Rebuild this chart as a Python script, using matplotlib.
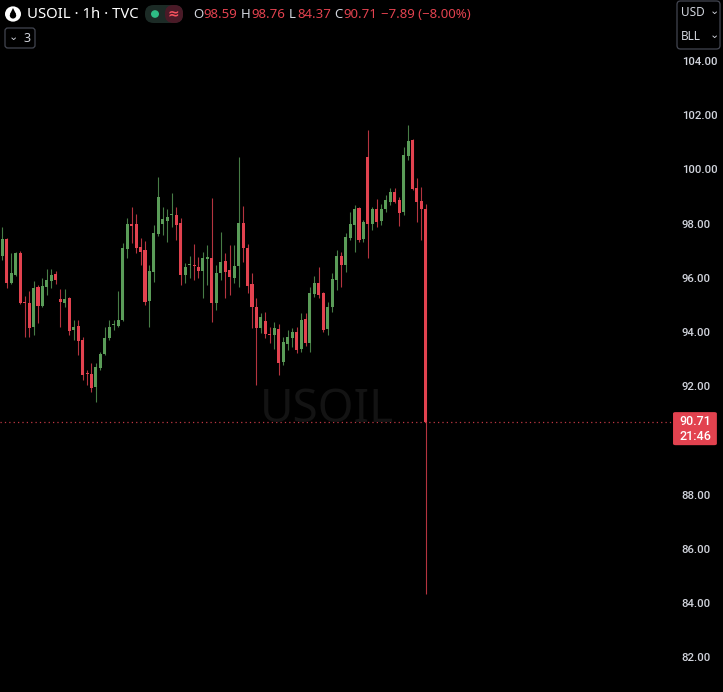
import numpy as np
import matplotlib.pyplot as plt
from matplotlib.patches import FancyBboxPatch, Circle, Polygon

plt.rcParams['font.family'] = ['Noto Sans', 'DejaVu Sans']

# USOIL 1h candles
opens = [96.84, 97.47, 95.85, 96.14, 96.95, 95.14, 95.11, 94.22, 95.70, 95.00,
         95.70, 95.92, 96.18, 95.25, 95.11, 95.29, 94.11, 94.26, 93.74, 92.52,
         92.49, 92.01, 92.71, 93.23, 93.82, 94.30, 94.26, 94.48, 97.10, 98.02,
         98.02, 97.17, 97.06, 95.18, 96.25, 97.65, 98.02, 98.13, 98.35, 98.35,
         98.06, 96.14, 96.51, 96.51, 96.44, 96.29, 96.73, 96.77, 95.11, 96.21,
         96.66, 96.32, 96.03, 96.47, 98.06, 97.14, 95.81, 94.96, 94.18, 94.44,
         93.96, 93.93, 94.15, 92.93, 93.59, 93.82, 94.04, 93.41, 94.52, 93.63,
         95.44, 95.85, 95.48, 94.15, 94.96, 95.96, 96.84, 96.51, 97.50, 97.99,
         98.61, 97.47, 100.49, 98.02, 98.58, 98.13, 98.58, 98.83, 99.20, 98.91,
         98.46, 100.53, 101.12, 99.35, 98.87, 98.59]
highs = [97.91, 97.50, 96.95, 96.99, 97.03, 95.37, 95.55, 95.92, 95.77, 96.03,
         96.36, 96.36, 96.29, 95.62, 95.62, 95.33, 94.48, 94.48, 93.85, 92.63,
         92.89, 92.89, 93.30, 94.22, 94.48, 94.48, 95.55, 97.32, 98.24, 98.65,
         98.39, 97.51, 97.40, 96.51, 97.99, 99.76, 98.65, 98.58, 99.17, 98.65,
         98.24, 96.58, 96.84, 97.28, 96.80, 96.99, 97.25, 98.98, 96.51, 97.73,
         96.95, 97.25, 97.25, 100.49, 98.69, 97.28, 96.21, 95.29, 94.74, 94.78,
         94.22, 94.41, 94.33, 93.85, 94.11, 94.18, 94.22, 94.74, 94.74, 95.70,
         96.10, 96.44, 95.51, 95.14, 96.21, 97.06, 96.99, 97.69, 98.46, 98.72,
         98.65, 98.17, 101.49, 98.65, 98.94, 98.76, 99.09, 99.35, 99.35, 99.02,
         100.86, 101.68, 101.15, 99.72, 99.39, 98.76]
lows = [96.69, 95.66, 95.80, 96.10, 95.08, 93.85, 93.85, 93.93, 94.37, 94.96,
        95.40, 95.66, 95.81, 94.22, 94.96, 93.93, 93.74, 93.19, 92.27, 92.08,
        91.82, 91.45, 92.63, 93.19, 93.74, 94.11, 94.22, 94.44, 96.77, 97.32,
        96.95, 96.51, 95.03, 94.22, 95.88, 97.58, 97.62, 97.36, 97.91, 97.43,
        95.77, 95.85, 96.03, 95.96, 96.03, 95.29, 95.77, 94.41, 94.85, 95.96,
        95.29, 95.40, 95.85, 95.70, 96.62, 95.48, 94.18, 92.08, 94.00, 93.82,
        93.63, 93.41, 92.45, 92.82, 93.37, 93.48, 93.26, 93.30, 93.52, 93.30,
        95.33, 95.29, 94.04, 93.93, 94.78, 95.59, 95.70, 96.25, 97.43, 96.99,
        97.36, 97.36, 96.77, 97.80, 97.91, 97.99, 98.46, 98.72, 98.80, 97.95,
        98.35, 100.38, 99.28, 98.10, 97.43, 84.37]
closes = [97.47, 95.85, 96.21, 96.95, 95.11, 95.11, 94.18, 95.66, 95.00, 95.74,
          95.96, 96.14, 95.96, 95.14, 95.25, 94.07, 94.22, 93.70, 92.45, 92.49,
          91.97, 92.75, 93.23, 93.82, 94.22, 94.32, 94.48, 97.14, 98.02, 97.95,
          97.14, 96.99, 95.14, 96.29, 97.69, 99.02, 98.21, 98.28, 98.36, 97.99,
          96.14, 96.44, 96.52, 96.49, 96.29, 96.77, 96.80, 95.11, 96.21, 96.62,
          96.25, 96.07, 96.47, 98.06, 97.14, 95.74, 94.96, 94.18, 94.59, 93.96,
          93.94, 94.18, 92.89, 93.67, 93.85, 94.04, 93.37, 94.48, 93.63, 95.48,
          95.85, 95.40, 94.11, 94.96, 95.99, 96.84, 96.51, 97.54, 98.02, 98.58,
          97.43, 98.10, 98.02, 98.58, 98.10, 98.58, 98.91, 99.20, 98.83, 98.43,
          100.57, 101.08, 99.31, 98.83, 98.58, 90.71]

# 90.00 sits behind the last-price label, so it is not listed
price_ticks = [104, 102, 100, 98, 96, 94, 92, 88, 86, 84, 82]
change, change_pct = -7.89, -8.00
countdown = "21:46"

UP = "#5a9c58"
DOWN = "#e2424f"
TXT = "#d1d4dc"
BG = "#000000"

W, H = 723, 692
fig = plt.figure(figsize=(W / 100, H / 100), dpi=100, facecolor=BG)

def fx(x):
    return x / W

def fy(y):
    return 1 - y / H

ymin, ymax = 80.75, 106.29
pane_w = 672

ax = fig.add_axes([0, 0, pane_w / W, 1])
ax.set_facecolor(BG)
ax.set_xlim(-0.52, 150.2)
ax.set_ylim(ymin, ymax)
ax.axis("off")

# watermark
fig.text(fx(327), fy(410), "USOIL", color="#131313", fontsize=33,
         ha="center", va="center", fontweight="light", zorder=0)

idx = np.arange(len(opens))
o = np.array(opens)
c = np.array(closes)
cols = [UP if cc >= oo else DOWN for oo, cc in zip(o, c)]
ax.vlines(idx, lows, highs, colors=cols, linewidth=0.8, alpha=0.8, zorder=2)
body_h = np.maximum(np.abs(c - o), 0.03)
ax.bar(idx, body_h, bottom=np.minimum(o, c), width=0.68, color=cols,
       linewidth=0, zorder=3)

# last price line
last = closes[-1]
ax.axhline(last, color=DOWN, linestyle=(0, (1, 2.5)), linewidth=0.9, alpha=0.85)

# price scale
ax2 = fig.add_axes([pane_w / W, 0, (W - pane_w) / W, 1])
ax2.set_facecolor(BG)
ax2.set_xlim(0, 1)
ax2.set_ylim(ymin, ymax)
ax2.axis("off")
for p in price_ticks:
    ax2.text(0.19, p, f"{p:.2f}", color=TXT, fontsize=8.2, ha="left",
             va="center", family=["Roboto", "DejaVu Sans"], fontweight="medium")
ax2.add_patch(FancyBboxPatch((0.02, last - 0.85), 0.86, 1.22,
                             boxstyle="round,pad=0,rounding_size=0.05",
                             facecolor=DOWN, edgecolor="none", zorder=5))
ax2.text(0.45, last + 0.02, f"{last:.2f}", color="white", fontsize=9,
         ha="center", va="center", zorder=6, family=["Roboto", "DejaVu Sans"],
         fontweight="medium")
ax2.text(0.45, last - 0.52, countdown, color="white", fontsize=9,
         ha="center", va="center", zorder=6, family=["Roboto", "DejaVu Sans"],
         fontweight="medium")

# top-right currency / unit box
fig.patches.append(FancyBboxPatch((fx(677), fy(49)), fx(43), fy(1) - fy(49),
                                  boxstyle="round,pad=0,rounding_size=0.005",
                                  transform=fig.transFigure, facecolor=BG,
                                  edgecolor="#434651", linewidth=0.9))
fig.text(fx(681), fy(13), "USD", color=TXT, fontsize=8.5, va="center")
fig.text(fx(681), fy(37), "BLL", color=TXT, fontsize=8.5, va="center")
fig.text(fx(714), fy(12), "⌄", color=TXT, fontsize=8, va="center", ha="center")
fig.text(fx(714), fy(35), "⌄", color=TXT, fontsize=8, va="center", ha="center")

# header: icon
fig.patches.append(Circle((fx(13), fy(14)), 8 / W, transform=fig.transFigure,
                          facecolor="white", edgecolor="none"))
fig.patches.append(Polygon([(fx(13), fy(8)), (fx(10), fy(14)), (fx(16), fy(14))],
                           closed=True, transform=fig.transFigure,
                           facecolor=BG, edgecolor="none"))
fig.patches.append(Circle((fx(13), fy(15.5)), 3.2 / W, transform=fig.transFigure,
                          facecolor=BG, edgecolor="none"))

fig.text(fx(27), fy(14), "USOIL · 1h · TVC", color="white", fontsize=10.7,
         va="center", ha="left")

# status pill
fig.patches.append(FancyBboxPatch((fx(145), fy(23)), fx(38), fy(5) - fy(23),
                                  boxstyle="round,pad=0,rounding_size=0.012",
                                  transform=fig.transFigure,
                                  facecolor="#1c2b26", edgecolor="none"))
fig.patches.append(FancyBboxPatch((fx(165), fy(23)), fx(18), fy(5) - fy(23),
                                  boxstyle="round,pad=0,rounding_size=0.012",
                                  transform=fig.transFigure,
                                  facecolor="#4a1a27", edgecolor="none"))
fig.patches.append(Circle((fx(155), fy(14)), 4 / W, transform=fig.transFigure,
                          facecolor="#2ebd85", edgecolor="none"))
fig.text(fx(173), fy(14), "≈", color="#f7525f", fontsize=10, va="center",
         ha="center", fontweight="bold")

# OHLC legend
items = [(193, "O", opens[-1], 10), (241, "H", highs[-1], 10),
         (289, "L", lows[-1], 8), (334, "C", closes[-1], 9)]
for x0, lab, val, gap in items:
    fig.text(fx(x0), fy(14), lab, color=TXT, fontsize=9.5, va="center")
    fig.text(fx(x0 + gap), fy(14), f"{val:.2f}", color=DOWN, fontsize=9.5,
             va="center")
fig.text(fx(381), fy(14), f"−{abs(change):.2f} (−{abs(change_pct):.2f}%)",
         color=DOWN, fontsize=9.5, va="center")

# collapse button
fig.patches.append(FancyBboxPatch((fx(5), fy(48)), fx(30), fy(28) - fy(48),
                                  boxstyle="round,pad=0,rounding_size=0.004",
                                  transform=fig.transFigure, facecolor=BG,
                                  edgecolor="#434651", linewidth=0.9))
fig.text(fx(13), fy(37), "⌄", color=TXT, fontsize=8, va="center", ha="center")
fig.text(fx(24), fy(38), "3", color=TXT, fontsize=9, va="center")

fig.savefig("out.png", dpi=100, facecolor=BG)
